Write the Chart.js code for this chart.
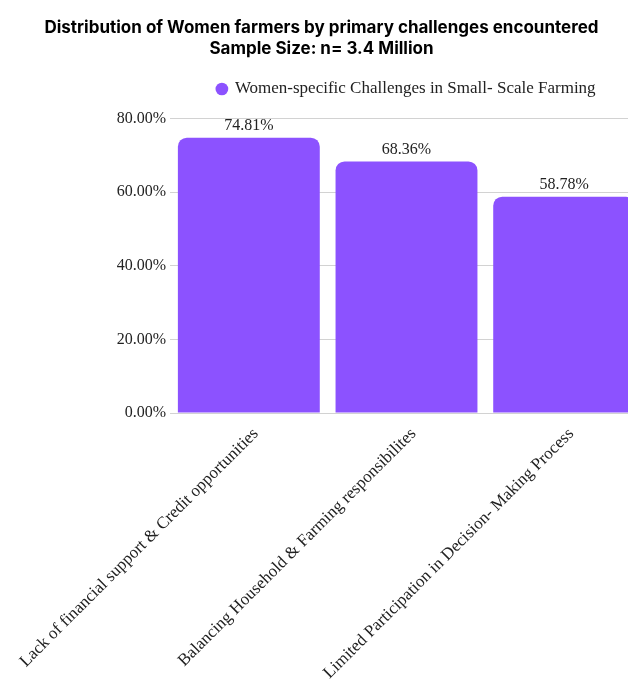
<!DOCTYPE html>
<html>
<head>
<meta charset="utf-8">
<script src="https://cdn.jsdelivr.net/npm/chart.js@4"></script>
<style>
  html, body { margin: 0; padding: 0; background: #fff; overflow: hidden; }
  #wrap { width: 628px; height: 679px; overflow: hidden; }
</style>
</head>
<body>
<div id="wrap"><canvas id="challengeChart" width="643" height="679"></canvas></div>
<script>
// Women farmers - primary challenges (share of respondents, %)
const categories = [
  "Lack of financial support & Credit opportunities",
  "Balancing Household & Farming responsibilites",
  "Limited Participation in Decision- Making Process"
];
const seriesLabel = "Women-specific Challenges in Small- Scale Farming";
const values = [74.81, 68.36, 58.78];
const yTicks = [0, 20, 40, 60, 80];

const serif = "'Liberation Serif', 'Times New Roman', serif";

// little plugin to write the value above each bar
const barLabels = {
  id: "barLabels",
  afterDatasetsDraw(chart) {
    const ctx = chart.ctx;
    const meta = chart.getDatasetMeta(0);
    ctx.save();
    ctx.font = "16px " + serif;
    ctx.fillStyle = "#222";
    ctx.textAlign = "center";
    ctx.textBaseline = "bottom";
    meta.data.forEach((bar, i) => {
      ctx.fillText(values[i].toFixed(2) + "%", bar.x, bar.y - 4);
    });
    ctx.restore();
  }
};

const ctx = document.getElementById("challengeChart").getContext("2d");
new Chart(ctx, {
  type: "bar",
  data: {
    labels: categories,
    datasets: [{
      label: seriesLabel,
      data: values,
      backgroundColor: "#8c52ff",
      borderRadius: { topLeft: 9, topRight: 9 },
      borderSkipped: "bottom",
      barPercentage: 1,
      categoryPercentage: 0.9
    }]
  },
  options: {
    responsive: false,
    animation: false,
    layout: { padding: 0 },
    plugins: {
      title: {
        display: true,
        text: ["Distribution of Women farmers by primary challenges encountered", "Sample Size: n= 3.4 Million"],
        color: "#000",
        font: { family: "Inter", weight: "bold", size: 17, lineHeight: 1.25 },
        padding: { top: 17, bottom: 1 }
      },
      legend: {
        fullSize: false,
        labels: {
          usePointStyle: true,
          pointStyle: "circle",
          boxWidth: 9,
          boxHeight: 9,
          padding: 20,
          color: "#222",
          font: { family: serif, size: 17 }
        }
      },
      tooltip: { enabled: false }
    },
    scales: {
      x: {
        grid: { display: false },
        border: { display: false },
        ticks: {
          minRotation: 45,
          maxRotation: 45,
          labelOffset: 7,
          color: "#222",
          font: { family: serif, size: 17 }
        },
        afterFit: s => { s.height = 266; s.paddingLeft = 0; s.paddingRight = 0; }
      },
      y: {
        min: 0,
        max: 83, // a bit of room above the 80% line, like the original
        afterBuildTicks: s => { s.ticks = yTicks.map(v => ({ value: v })); },
        grid: { color: "#d2d2d2", drawTicks: false },
        border: { display: false },
        ticks: {
          padding: 4,
          color: "#222",
          font: { family: serif, size: 16 },
          callback: v => v.toFixed(2) + "%"
        },
        afterFit: s => { s.width = 170; }
      }
    }
  },
  plugins: [barLabels]
});
</script>
</body>
</html>
